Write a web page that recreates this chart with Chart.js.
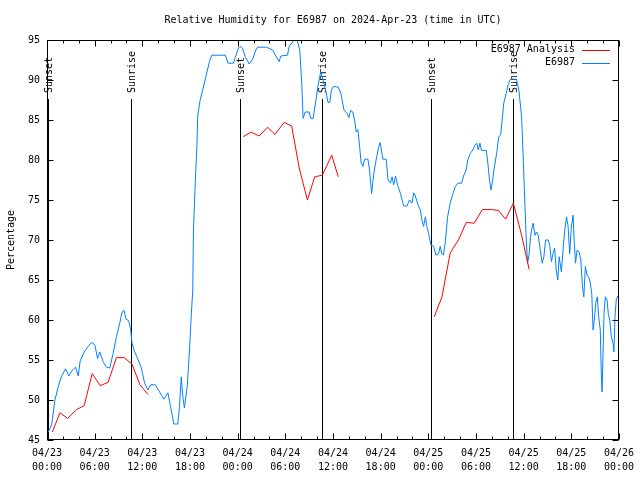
<!DOCTYPE html>
<html><head><meta charset="utf-8">
<script src="https://cdn.jsdelivr.net/npm/chart.js@4/dist/chart.umd.min.js"></script>
<style>html,body{margin:0;padding:0;background:#fff}</style>
</head><body>
<canvas id="c" width="640" height="480"></canvas>
<script>
// ---- data (hours since 2024-04-23 00:00 UTC) ----
const titleText = "Relative Humidity for E6987 on 2024-Apr-23 (time in UTC)";
const yTitle = "Percentage";
const xTickHours = [0,6,12,18,24,30,36,42,48,54,60,66,72];
const xTickDates = ["04/23","04/23","04/23","04/23","04/24","04/24","04/24","04/24","04/25","04/25","04/25","04/25","04/26"];
const xTickTimes = ["00:00","06:00","12:00","18:00","00:00","06:00","12:00","18:00","00:00","06:00","12:00","18:00","00:00"];
const yTicks = [45,50,55,60,65,70,75,80,85,90,95];

const eventHours = [0.13, 10.57, 24.3, 34.66, 48.33, 58.62];
const eventLabels = ["Sunset","Sunrise","Sunset","Sunrise","Sunset","Sunrise"];

const analysisLabel = "E6987 Analysis";
const analysisHours = [0.67,1.63,2.6,3.72,4.68,5.69,6.69,7.69,8.74,9.7,10.7,11.7,12.71, 18,
  24.7,25.68,26.7,27.76,28.7,29.85,30.8,31.75,32.78,33.7,34.66,35.84,36.67, 42,
  48.75,49.72,50.76,51.8,52.77,53.78,54.8,55.98,56.82,57.74,58.7,59.75,60.7];
const analysisValues = [46.0,48.4,47.7,48.8,49.3,53.3,51.8,52.2,55.3,55.3,54.5,51.9,50.7, null,
  82.9,83.5,83.0,84.1,83.2,84.7,84.25,79.0,75.0,77.9,78.1,80.6,77.9, null,
  60.4,62.9,68.4,70.0,72.2,72.1,73.8,73.8,73.7,72.6,74.6,70.6,66.3];

const obsLabel = "E6987";
const obsHours = [0.16,0.58,1.0,1.42,1.84,2.34,2.76,3.17,3.6,3.93,4.18,4.68,5.18,5.6,6.02,6.36,6.65,7.06,7.49,7.9,
  8.32,8.74,9.16,9.45,9.7,9.95,10.29,10.54,10.7,11.04,11.45,11.88,12.29,12.71,13.05,13.64,14.17,14.71,15.22,15.55,
  15.97,16.47,16.68,16.9,17.1,17.3,17.65,17.94,18.15,18.35,18.44,18.7,18.86,18.98,19.28,19.6,20.0,20.45,20.74,22.45,
  22.8,23.46,23.8,24.1,24.3,24.6,24.96,25.46,25.88,26.3,26.5,27.64,28.4,28.8,29.23,29.43,30.27,30.5,31.1,31.5,
  31.82,32.07,32.24,32.5,33.0,33.2,33.5,33.86,34.1,34.46,34.75,35.08,35.37,35.59,35.79,36.04,36.67,37.0,37.38,37.8,
  38.0,38.22,38.5,38.72,38.93,39.14,39.35,39.55,39.77,40.0,40.4,40.6,40.86,41.0,41.2,41.43,41.77,41.93,42.1,42.27,
  42.7,42.94,43.24,43.44,43.65,43.87,44.12,44.5,44.9,45.32,45.62,45.95,46.16,46.37,46.7,47.0,47.2,47.41,47.63,47.83,
  48.04,48.33,48.67,48.96,49.3,49.5,49.7,49.9,50.13,50.43,50.76,51.1,51.4,51.72,52.2,52.43,52.77,52.97,53.27,53.6,
  53.9,54.1,54.3,54.5,54.7,55.3,55.5,55.7,55.9,56.1,56.33,56.6,56.87,57.1,57.3,57.5,57.8,58.05,58.33,59.1,
  59.4,59.75,59.96,60.17,60.37,60.5,60.7,60.87,61.0,61.2,61.43,61.63,61.84,62.13,62.34,62.55,62.76,63.1,63.3,63.5,
  63.7,63.9,64.1,64.3,64.47,64.76,64.98,65.18,65.4,65.6,65.8,66.0,66.23,66.36,66.53,66.73,66.98,67.2,67.4,67.58,
  67.77,67.99,68.15,68.33,68.58,68.74,68.9,69.08,69.28,69.45,69.65,69.78,69.87,70.0,70.12,70.28,70.5,70.66,70.84,71.04,
  71.25,71.37,71.5,71.66,71.84];
const obsValues = [46.0,46.9,50.0,51.7,53.0,53.9,53.0,53.7,54.1,53.0,54.9,56.0,56.7,57.2,56.9,55.2,56.0,54.8,54.1,54.0,
  55.8,57.9,59.6,61.0,61.2,60.1,59.9,58.75,57.1,56.0,55.1,54.0,52.1,51.25,51.9,51.9,51.0,50.1,50.9,49.2,
  47.0,47.0,49.2,52.9,50.4,49.0,51.7,56.25,60.4,63.75,71.25,78.1,81.5,85.6,87.5,88.75,90.4,92.3,93.1,93.1,
  92.1,92.1,93.1,94.0,94.2,94.0,92.9,92.0,92.6,93.75,94.1,94.1,93.75,93.0,92.3,93.0,93.1,94.25,95.0,95.0,
  93.75,89.6,85.2,86.0,86.0,85.2,85.2,87.5,89.2,91.0,90.0,88.75,87.2,87.2,88.7,89.2,89.1,88.3,86.25,85.8,
  85.3,86.2,86.0,85.0,83.5,83.8,81.7,79.6,79.2,80.1,80.1,78.75,75.8,77.1,78.75,80.0,81.7,82.2,81.25,80.1,
  80.1,77.5,77.1,77.9,76.9,78.0,76.9,75.8,74.25,74.25,75.0,74.6,75.9,75.5,74.4,73.75,72.5,71.7,72.9,71.7,
  70.8,69.4,69.2,68.1,68.3,69.2,68.3,68.1,69.6,72.9,74.6,75.8,76.7,77.1,77.1,78.0,78.75,80.0,80.8,81.25,
  81.9,82.1,81.25,82.1,81.2,81.2,79.6,77.5,76.25,77.5,79.2,80.8,82.9,83.1,85.0,87.1,88.3,89.4,90.1,90.1,
  88.75,85.4,80.0,74.2,69.2,67.1,68.3,70.4,71.25,72.1,70.6,71.0,70.6,68.5,67.1,67.9,70.0,70.0,69.2,67.3,
  68.3,69.0,66.25,65.0,67.9,66.0,69.0,71.25,72.9,71.7,68.3,71.5,73.1,70.0,67.1,68.75,68.5,67.5,64.2,62.9,
  66.7,65.6,65.4,65.0,63.3,58.75,60.0,62.1,62.9,60.4,58.75,53.3,51.0,55.8,60.8,62.9,62.5,60.8,60.0,57.9,
  57.1,56.0,60.4,62.5,63.0];

// ---- styling ----
const FONT = "'DejaVu Sans Mono', 'Liberation Mono', monospace";
const FS = 10;
const RED = '#ff0000';
const BLUE = '#0080ff';

const toPts = (xs, ys) => xs.map((x, i) => ({x: x, y: ys[i]}));

const gnuplotPlugin = {
  id: 'gnuplotDeco',
  beforeDatasetsDraw(chart) {
    const {ctx, chartArea: a, scales: {x}} = chart;
    ctx.save();
    ctx.strokeStyle = '#000';
    ctx.lineWidth = 1;
    ctx.fillStyle = '#000';
    ctx.font = FS + 'px ' + FONT;
    eventHours.forEach((h, i) => {
      const px = Math.round(x.getPixelForValue(h)) + 0.5;
      ctx.beginPath();
      ctx.moveTo(px, a.top + 59);
      ctx.lineTo(px, a.bottom);
      ctx.stroke();
      ctx.save();
      ctx.translate(px + 1, a.top + 53);
      ctx.rotate(-Math.PI / 2);
      ctx.textAlign = 'left';
      ctx.textBaseline = 'middle';
      ctx.fillText(eventLabels[i], 0, 0);
      ctx.restore();
    });
    ctx.restore();
  },
  afterDraw(chart) {
    const {ctx, chartArea: a, scales: {x, y}} = chart;
    ctx.save();
    ctx.strokeStyle = '#000';
    ctx.lineWidth = 1;
    const L = Math.round(a.left) + 0.5, R = Math.round(a.right) - 0.5;
    const T = Math.round(a.top) + 0.5, B = Math.round(a.bottom) - 0.5;
    ctx.strokeRect(L, T, R - L, B - T);
    ctx.beginPath();
    yTicks.forEach(v => {
      const py = Math.round(y.getPixelForValue(v)) + 0.5;
      ctx.moveTo(L, py); ctx.lineTo(L + 6, py);
      ctx.moveTo(R, py); ctx.lineTo(R - 6, py);
    });
    for (let h = 0; h <= 72; h += 2) {
      const px = Math.round(x.getPixelForValue(h)) + 0.5;
      const len = (h % 6 === 0) ? 6 : 3;
      ctx.moveTo(px, B); ctx.lineTo(px, B - len);
      ctx.moveTo(px, T); ctx.lineTo(px, T + len);
    }
    ctx.stroke();
    // legend
    ctx.font = FS + 'px ' + FONT;
    ctx.textAlign = 'right';
    ctx.textBaseline = 'middle';
    chart.data.datasets.forEach((ds, i) => {
      const ly = 49.5 + i * 13;
      ctx.fillStyle = '#000';
      ctx.fillText(ds.label, 575, ly);
      ctx.strokeStyle = ds.borderColor;
      ctx.beginPath();
      ctx.moveTo(582, Math.round(ly) + 0.5);
      ctx.lineTo(610, Math.round(ly) + 0.5);
      ctx.stroke();
    });
    ctx.restore();
  }
};

new Chart(document.getElementById('c'), {
  type: 'line',
  data: {
    datasets: [
      {label: analysisLabel, data: toPts(analysisHours, analysisValues), borderColor: RED, borderWidth: 1,
       pointRadius: 0, tension: 0, spanGaps: false, fill: false},
      {label: obsLabel, data: toPts(obsHours, obsValues), borderColor: BLUE, borderWidth: 1,
       pointRadius: 0, tension: 0, spanGaps: false, fill: false}
    ]
  },
  options: {
    responsive: false,
    animation: false,
    events: [],
    layout: {padding: {left: 0, right: 19, top: 0, bottom: 0}},
    plugins: {
      legend: {display: false},
      tooltip: {enabled: false},
      title: {display: true, text: titleText, color: '#000', fullSize: false,
              font: {family: FONT, size: FS, weight: 'normal', lineHeight: 1.2},
              padding: {top: 14, bottom: 14}}
    },
    scales: {
      x: {
        type: 'linear', min: 0, max: 72,
        grid: {display: false, drawTicks: false},
        border: {display: false},
        afterBuildTicks(s) { s.ticks = xTickHours.map(v => ({value: v})); },
        afterFit(s) { s.height = 40; },
        ticks: {
          autoSkip: false, maxRotation: 0, minRotation: 0, padding: 6, color: '#000',
          font: {family: FONT, size: FS, lineHeight: 1.4},
          callback(v) { const i = xTickHours.indexOf(v); return i < 0 ? '' : [xTickDates[i], xTickTimes[i]]; }
        }
      },
      y: {
        min: 45, max: 95,
        grid: {display: false, drawTicks: false},
        border: {display: false},
        afterBuildTicks(s) { s.ticks = yTicks.map(v => ({value: v})); },
        afterFit(s) { s.width = 47; },
        ticks: {padding: 7, color: '#000', font: {family: FONT, size: FS}},
        title: {display: true, text: yTitle, color: '#000', font: {family: FONT, size: FS, lineHeight: 1.2},
                padding: {top: 5, bottom: 0}}
      }
    }
  },
  plugins: [gnuplotPlugin]
});
</script>
</body></html>
